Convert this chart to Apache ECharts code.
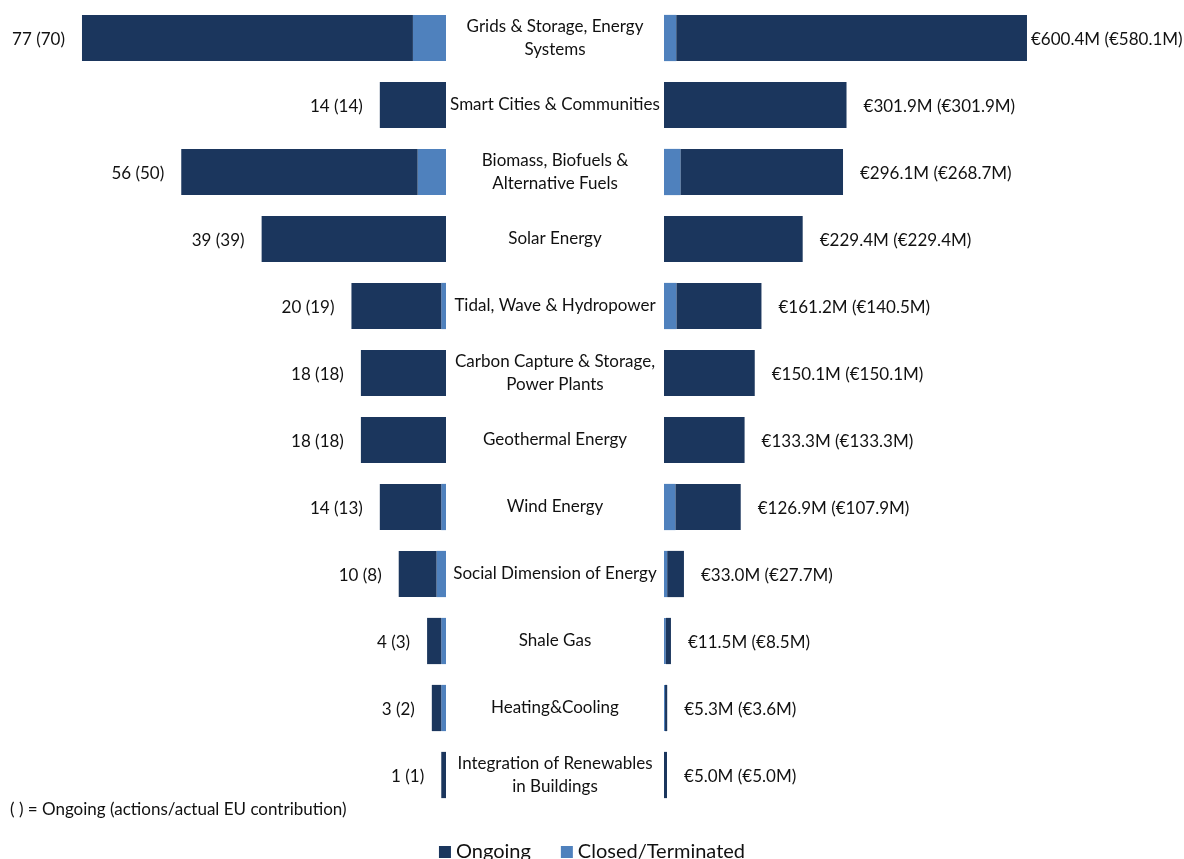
<!DOCTYPE html>
<html>
<head>
<meta charset="utf-8">
<script src="https://cdn.jsdelivr.net/npm/echarts@6/dist/echarts.min.js"></script>
<style>
  html, body { margin: 0; padding: 0; background: #fff; }
  #chart { width: 1184px; height: 859px; }
</style>
</head>
<body>
<div id="chart"></div>
<script>
// Thematic areas, top to bottom
const categories = [
  'Grids & Storage, Energy Systems',
  'Smart Cities & Communities',
  'Biomass, Biofuels & Alternative Fuels',
  'Solar Energy',
  'Tidal, Wave & Hydropower',
  'Carbon Capture & Storage, Power Plants',
  'Geothermal Energy',
  'Wind Energy',
  'Social Dimension of Energy',
  'Shale Gas',
  'Heating&Cooling',
  'Integration of Renewables in Buildings'
];
// Number of actions: total and ongoing
const actionsTotal   = [77, 14, 56, 39, 20, 18, 18, 14, 10, 4, 3, 1];
const actionsOngoing = [70, 14, 50, 39, 19, 18, 18, 13, 8, 3, 2, 1];
// EU contribution (€M): total and ongoing
const contribTotal   = [600.4, 301.9, 296.1, 229.4, 161.2, 150.1, 133.3, 126.9, 33.0, 11.5, 5.3, 5.0];
const contribOngoing = [580.1, 301.9, 268.7, 229.4, 140.5, 150.1, 133.3, 107.9, 27.7, 8.5, 3.6, 5.0];

// Two-line names: the word after which the label wraps
const wrapAfter = {
  'Grids & Storage, Energy Systems': 'Energy',
  'Biomass, Biofuels & Alternative Fuels': '&',
  'Carbon Capture & Storage, Power Plants': 'Storage,',
  'Integration of Renewables in Buildings': 'Renewables'
};

const actionsClosed = actionsTotal.map((t, i) => t - actionsOngoing[i]);
const contribClosed = contribTotal.map((t, i) => +(t - contribOngoing[i]).toFixed(1));

function wrapName(name) {
  const w = wrapAfter[name];
  if (!w) return name;
  const words = name.split(' ');
  const k = words.indexOf(w) + 1;
  return words.slice(0, k).join(' ') + '\n' + words.slice(k).join(' ');
}

const DARK = '#1b365d';
const LIGHT = '#4f81bd';
const FONT = 'Lato';

const chart = echarts.init(document.getElementById('chart'));

chart.setOption({
  animation: false,
  textStyle: { fontFamily: FONT },
  grid: [
    { left: 67.8, right: 738, top: 4.5, height: 804, containLabel: false },
    { left: 664, right: 96.8, top: 4.5, height: 804, containLabel: false }
  ],
  xAxis: [
    { gridIndex: 0, type: 'value', min: 0, max: 80, inverse: true, show: false },
    { gridIndex: 1, type: 'value', min: 0, max: 700, show: false }
  ],
  yAxis: [
    { gridIndex: 0, type: 'category', data: categories, inverse: true, show: false },
    {
      gridIndex: 1, type: 'category', data: categories, inverse: true,
      axisLine: { show: false }, axisTick: { show: false },
      axisLabel: {
        align: 'center', margin: 109, formatter: wrapName,
        padding: [4, 0, 0, 0],
        fontFamily: FONT, fontSize: 17, color: '#111', lineHeight: 23
      }
    }
  ],
  legend: {
    bottom: -8, left: 'center',
    data: ['Ongoing', 'Closed/Terminated'],
    itemWidth: 12, itemHeight: 12, itemGap: 30, icon: 'rect',
    textStyle: { fontFamily: FONT, fontSize: 20, color: '#111' }
  },
  graphic: [{
    type: 'text', left: 10, top: 801,
    style: { text: '( ) = Ongoing (actions/actual EU contribution)', font: '17px ' + FONT, fill: '#111' }
  }],
  series: [
    {
      name: 'Closed/Terminated', type: 'bar', stack: 'actions',
      xAxisIndex: 0, yAxisIndex: 0, barWidth: '69%',
      itemStyle: { color: LIGHT }, data: actionsClosed
    },
    {
      name: 'Ongoing', type: 'bar', stack: 'actions',
      xAxisIndex: 0, yAxisIndex: 0, barWidth: '69%',
      itemStyle: { color: DARK }, data: actionsOngoing,
      label: {
        show: true, position: 'left', distance: 17, offset: [0, 2],
        fontFamily: FONT, fontSize: 17, color: '#111',
        formatter: p => `${actionsTotal[p.dataIndex]} (${actionsOngoing[p.dataIndex]})`
      }
    },
    {
      name: 'Closed/Terminated', type: 'bar', stack: 'contrib',
      xAxisIndex: 1, yAxisIndex: 1, barWidth: '69%',
      itemStyle: { color: LIGHT }, data: contribClosed
    },
    {
      name: 'Ongoing', type: 'bar', stack: 'contrib',
      xAxisIndex: 1, yAxisIndex: 1, barWidth: '69%',
      itemStyle: { color: DARK },
      data: contribOngoing.map((v, i) => i === 0 ? { value: v, label: { distance: 4 } } : v),
      label: {
        show: true, position: 'right', distance: 17, offset: [0, 2],
        fontFamily: FONT, fontSize: 17, color: '#111',
        formatter: p => `€${contribTotal[p.dataIndex].toFixed(1)}M (€${contribOngoing[p.dataIndex].toFixed(1)}M)`
      }
    }
  ]
});
</script>
</body>
</html>
